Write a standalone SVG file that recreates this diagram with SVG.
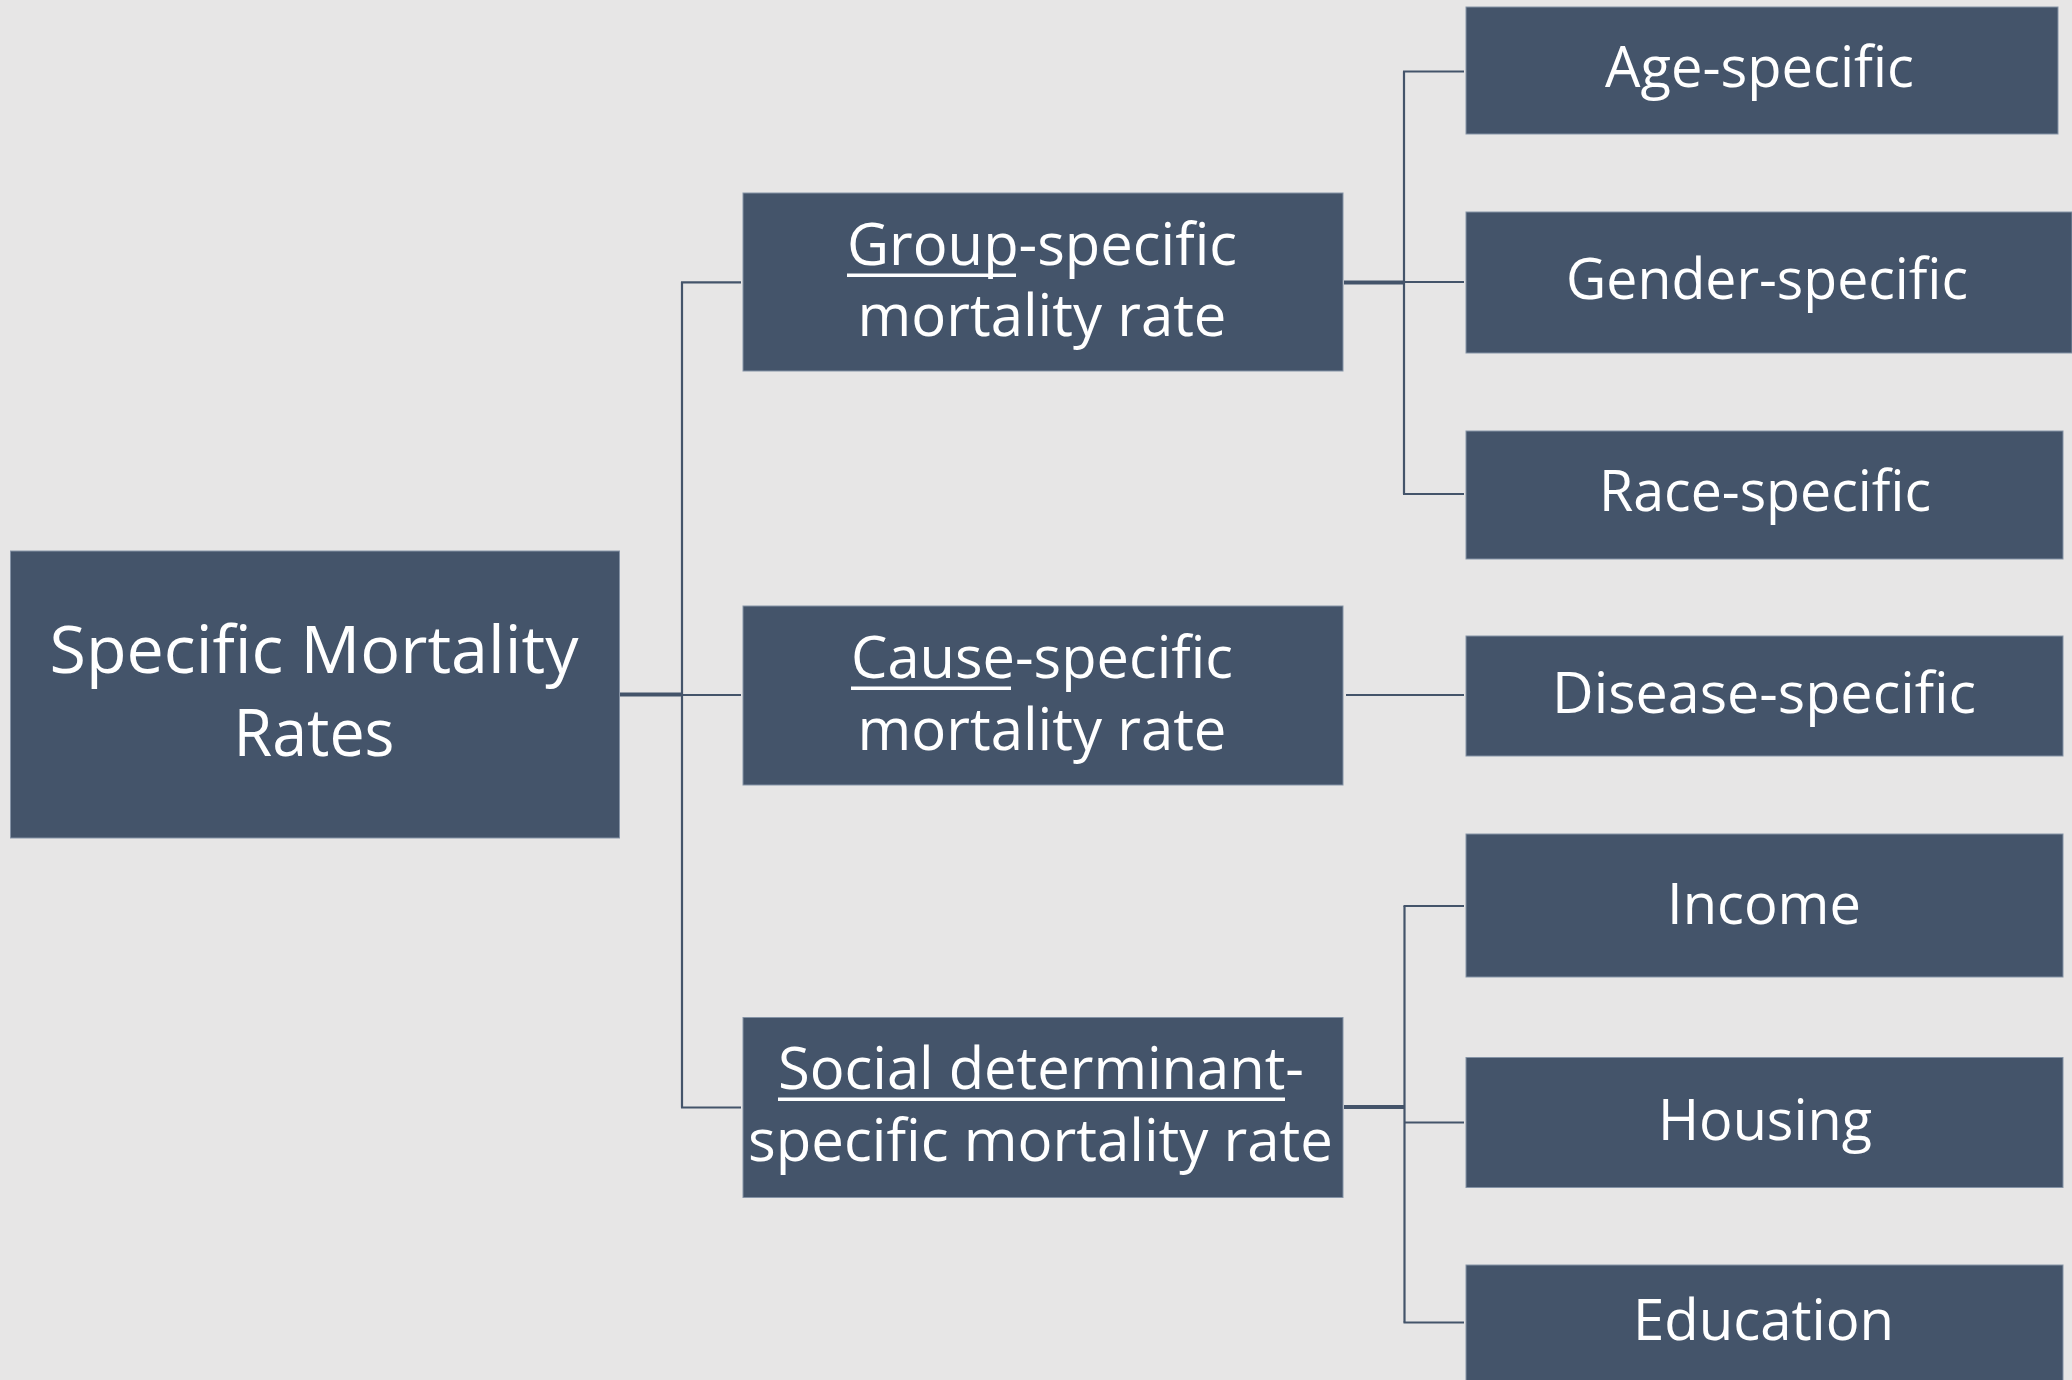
<svg xmlns="http://www.w3.org/2000/svg" width="2072" height="1380" viewBox="0 0 2072 1380">
<style>
.bg{fill:#E7E6E6}
.box{fill:#44546A;stroke:#8593A6;stroke-width:1}
.t{fill:#FFFFFF;font-family:"Open Sans","Noto Sans","DejaVu Sans",sans-serif;text-anchor:middle}
.t1{font-size:66px}
.t2{font-size:59px}
.t3{font-size:57px}
.ul{fill:#FFFFFF}
.c{stroke:#44546A;stroke-width:2.2;fill:none}
.ct{stroke:#44546A;stroke-width:4;fill:none}
</style>
<rect class="bg" x="0" y="0" width="2072" height="1380"/>
<g id="connectors">
  <line class="ct" x1="620" y1="694.5" x2="682" y2="694.5"/>
  <line class="c" x1="682" y1="695" x2="741" y2="695"/>
  <line class="c" x1="682" y1="282" x2="682" y2="1107.5"/>
  <line class="c" x1="681" y1="282.3" x2="741" y2="282.3"/>
  <line class="c" x1="681" y1="1107.5" x2="741" y2="1107.5"/>
  <line class="ct" x1="1344" y1="282.5" x2="1404" y2="282.5"/>
  <line class="c" x1="1404" y1="71.5" x2="1404" y2="494"/>
  <line class="c" x1="1403" y1="71.5" x2="1464" y2="71.5"/>
  <line class="c" x1="1404" y1="282" x2="1464" y2="282"/>
  <line class="c" x1="1403" y1="494" x2="1464" y2="494"/>
  <line class="c" x1="1346" y1="695" x2="1464" y2="695"/>
  <line class="ct" x1="1344" y1="1107" x2="1404.5" y2="1107"/>
  <line class="c" x1="1404.5" y1="906" x2="1404.5" y2="1322.5"/>
  <line class="c" x1="1403.5" y1="906" x2="1464" y2="906"/>
  <line class="c" x1="1404.5" y1="1122.5" x2="1464" y2="1122.5"/>
  <line class="c" x1="1403.5" y1="1322.5" x2="1464" y2="1322.5"/>
</g>
<g id="root">
  <rect class="box" x="10.5" y="551" width="609" height="287"/>
  <text class="t t1" x="314" y="673" textLength="529" lengthAdjust="spacingAndGlyphs">Specific Mortality</text>
  <text class="t t1" x="314" y="756" textLength="161" lengthAdjust="spacingAndGlyphs">Rates</text>
</g>
<g id="group">
  <rect class="box" x="743" y="193" width="600" height="178"/>
  <text class="t t2" x="1042" y="265" textLength="390" lengthAdjust="spacingAndGlyphs">Group-specific</text>
  <rect class="ul" x="847" y="273.5" width="169" height="3.5"/>
  <text class="t t2" x="1042" y="336" textLength="369" lengthAdjust="spacingAndGlyphs">mortality rate</text>
</g>
<g id="cause">
  <rect class="box" x="743" y="606" width="600" height="179"/>
  <text class="t t2" x="1042" y="678" textLength="382" lengthAdjust="spacingAndGlyphs">Cause-specific</text>
  <rect class="ul" x="851" y="686.5" width="160" height="3.5"/>
  <text class="t t2" x="1042" y="750" textLength="369" lengthAdjust="spacingAndGlyphs">mortality rate</text>
</g>
<g id="social">
  <rect class="box" x="743" y="1017.5" width="600" height="180"/>
  <text class="t t2" x="1041" y="1088.5" textLength="526" lengthAdjust="spacingAndGlyphs">Social determinant-</text>
  <rect class="ul" x="778" y="1097.5" width="507" height="3.5"/>
  <text class="t t2" x="1040.5" y="1161" textLength="585" lengthAdjust="spacingAndGlyphs">specific mortality rate</text>
</g>
<g id="age">
  <rect class="box" x="1466" y="7" width="592" height="127"/>
  <text class="t t3" x="1759.5" y="86.5" textLength="309" lengthAdjust="spacingAndGlyphs">Age-specific</text>
</g>
<g id="gender">
  <rect class="box" x="1466" y="212" width="606" height="141"/>
  <text class="t t3" x="1767" y="298.5" textLength="402" lengthAdjust="spacingAndGlyphs">Gender-specific</text>
</g>
<g id="race">
  <rect class="box" x="1466" y="431" width="597" height="128"/>
  <text class="t t3" x="1765" y="511" textLength="332" lengthAdjust="spacingAndGlyphs">Race-specific</text>
</g>
<g id="disease">
  <rect class="box" x="1466" y="636" width="597" height="120"/>
  <text class="t t3" x="1764" y="713" textLength="424" lengthAdjust="spacingAndGlyphs">Disease-specific</text>
</g>
<g id="income">
  <rect class="box" x="1466" y="834" width="597" height="143"/>
  <text class="t t3" x="1764" y="923.5" textLength="194" lengthAdjust="spacingAndGlyphs">Income</text>
</g>
<g id="housing">
  <rect class="box" x="1466" y="1057.5" width="597" height="130"/>
  <text class="t t3" x="1765" y="1140" textLength="214" lengthAdjust="spacingAndGlyphs">Housing</text>
</g>
<g id="education">
  <rect class="box" x="1466" y="1265" width="597" height="125"/>
  <text class="t t3" x="1763.5" y="1339.5" textLength="261" lengthAdjust="spacingAndGlyphs">Education</text>
</g>
</svg>
